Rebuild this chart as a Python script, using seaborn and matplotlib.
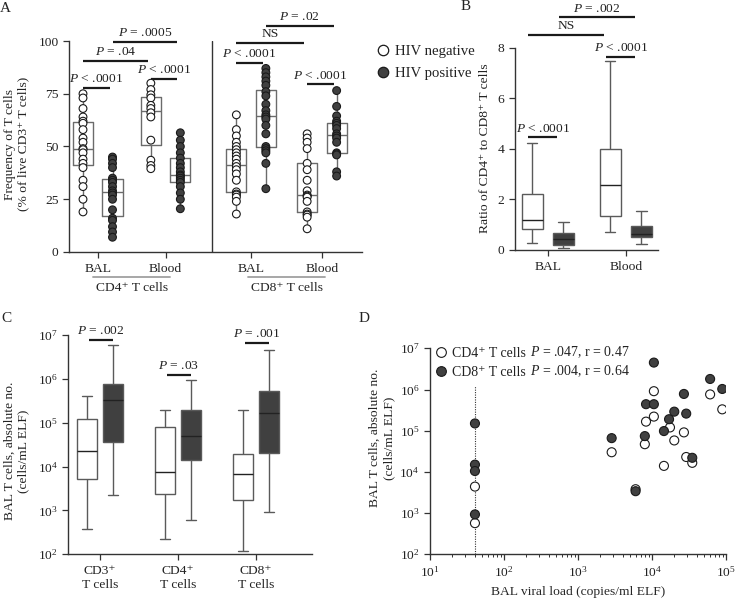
import numpy as np
import pandas as pd
import matplotlib
matplotlib.use("Agg")
import matplotlib.pyplot as plt
import matplotlib.ticker as mticker
import matplotlib.transforms as mtransforms
from matplotlib.lines import Line2D
import seaborn as sns

# ---------------- data ----------------
status_levels = ["HIV negative", "HIV positive"]

# A: frequency of T cells (% of live CD3+ T cells)
cd4_bal_neg = [75, 73, 68, 64, 62, 61, 58, 54, 52, 49, 48.5, 47, 44, 42, 40, 34, 31, 25, 19]
cd4_bal_pos = [45, 44, 42, 40, 35, 34, 33, 31, 29, 28, 27, 25, 20, 16, 15, 12, 9.5, 7]
cd4_blood_neg = [80, 77, 74.5, 73, 69.5, 68, 66, 64, 53, 43.5, 41, 39.5]
cd4_blood_pos = [56.5, 53, 50, 47, 44.5, 42, 40, 38, 36.5, 36, 35, 34, 33, 31, 28, 25, 20.5]
cd8_bal_neg = [65, 58, 55, 52, 50, 48.5, 47, 45.5, 44, 42, 40.5, 39, 37, 34, 28.5, 27.5, 27, 26, 24, 18]
cd8_bal_pos = [87, 85, 83, 81, 79, 76, 74, 70, 67, 65, 64, 63, 60, 56, 50, 49, 48, 47, 42, 30]
cd8_blood_neg = [56, 54, 52, 49, 42, 39, 34, 29, 27, 26.5, 26, 24, 19, 18, 17.5, 16.5, 11]
cd8_blood_pos = [76.5, 69, 64.5, 62, 61, 60, 58.5, 56, 55, 54, 52, 47, 46.5, 46, 38, 36]

# B: ratio of CD4+ to CD8+ T cells, (min, Q1, median, Q3, max)
ratio_bal_neg = [0.29, 0.82, 1.19, 2.22, 4.22]
ratio_bal_pos = [0.07, 0.20, 0.42, 0.66, 1.09]
ratio_blood_neg = [0.72, 1.34, 2.57, 3.98, 7.48]
ratio_blood_pos = [0.25, 0.53, 0.64, 0.95, 1.55]

# C: BAL T cells, absolute no. (cells/mL ELF), (min, Q1, median, Q3, max)
cd3_neg = [3.8e2, 5.1e3, 2.3e4, 1.2e5, 4.1e5]
cd3_pos = [2.2e3, 3.7e4, 3.3e5, 7.5e5, 5.9e6]
cd4_neg = [2.2e2, 2.4e3, 7.4e3, 8.1e4, 2.0e5]
cd4_pos = [5.9e2, 1.4e4, 5.1e4, 1.9e5, 9.4e5]
cd8_neg = [1.2e2, 1.7e3, 6.6e3, 1.9e4, 1.9e5]
cd8_pos = [9.2e2, 2.0e4, 1.7e5, 5.3e5, 4.5e6]

# D: BAL viral load vs BAL T cells
vl_cd4 = [40.5, 40.5, 2.85e3, 6.0e3, 8.0e3, 8.3e3, 1.06e4, 1.06e4, 1.45e4, 1.75e4,
          2.0e4, 2.7e4, 2.9e4, 3.5e4, 6.1e4, 8.9e4]
n_cd4 = [4.4e3, 5.7e2, 3.0e4, 3.8e3, 4.7e4, 1.66e5, 9.1e5, 2.2e5, 1.4e4, 1.2e5,
         5.8e4, 9.1e4, 2.3e4, 1.66e4, 7.6e5, 3.3e5]
vl_cd8 = [40.5, 40.5, 40.5, 40.5, 2.85e3, 6.0e3, 8.0e3, 8.3e3, 1.06e4, 1.06e4,
          1.45e4, 1.7e4, 2.0e4, 2.7e4, 2.9e4, 3.5e4, 6.1e4, 8.9e4]
n_cd8 = [1.5e5, 1.5e4, 1.05e4, 9.3e2, 6.6e4, 3.4e3, 7.4e4, 4.4e5, 4.5e6, 4.4e5,
         9.8e4, 1.9e5, 2.9e5, 7.8e5, 2.6e5, 2.2e4, 1.8e6, 1.03e6]
vl_limit = 40.5
corr_labels = ["$P$ = .047, r = 0.47", "$P$ = .004, r = 0.64"]

# ---------------- style ----------------
sns.set_style("ticks")
plt.rcParams["font.family"] = ["Liberation Serif", "DejaVu Serif"]
plt.rcParams["mathtext.fontset"] = "custom"
plt.rcParams["mathtext.rm"] = "Liberation Serif"
plt.rcParams["mathtext.it"] = "Liberation Serif:italic"
plt.rcParams["mathtext.bf"] = "Liberation Serif:bold"
plt.rcParams["font.size"] = 9.7
plt.rcParams["text.color"] = "#222222"
plt.rcParams["axes.edgecolor"] = "#333333"
plt.rcParams["axes.linewidth"] = 1.0
for a in ("xtick", "ytick"):
    plt.rcParams[a + ".color"] = "#333333"
    plt.rcParams[a + ".labelcolor"] = "#222222"
    plt.rcParams[a + ".major.size"] = 4
    plt.rcParams[a + ".major.width"] = 0.9
    plt.rcParams[a + ".labelsize"] = 9.7

dark = "#404040"
edge = "#1a1a1a"
box_line = "#6b6b6b"

W, H = 738, 598
fig = plt.figure(figsize=(W / 100, H / 100), dpi=100)


def place(l, t, r, b):
    return [l / W, 1 - b / H, (r - l) / W, (b - t) / H]


axA = fig.add_axes(place(69, 41, 362, 252))
axB = fig.add_axes(place(515, 47.7, 657.7, 250))
axC = fig.add_axes(place(68.3, 335, 312, 554.3))
axD = fig.add_axes(place(430, 348.3, 726, 554.3))


def bracket(ax, x1, x2, y, text):
    ax.plot([x1, x2], [y, y], color=edge, lw=1.6, clip_on=False, solid_capstyle="butt")
    ax.annotate(text, xy=((x1 + x2) / 2, y), xytext=(0, 2), textcoords="offset points",
                ha="center", va="bottom", annotation_clip=False)


# ---------------- A ----------------
pos_a = {"CD4 BAL": 0.0, "CD4 Blood": 2.3, "CD8 BAL": 5.2, "CD8 Blood": 7.6}
freq = {
    ("CD4 BAL", "HIV negative"): cd4_bal_neg, ("CD4 BAL", "HIV positive"): cd4_bal_pos,
    ("CD4 Blood", "HIV negative"): cd4_blood_neg, ("CD4 Blood", "HIV positive"): cd4_blood_pos,
    ("CD8 BAL", "HIV negative"): cd8_bal_neg, ("CD8 BAL", "HIV positive"): cd8_bal_pos,
    ("CD8 Blood", "HIV negative"): cd8_blood_neg, ("CD8 Blood", "HIV positive"): cd8_blood_pos,
}
rows = []
for (grp, st), vals in freq.items():
    x = pos_a[grp] + status_levels.index(st)
    rows += [{"x": x, "group": grp, "status": st, "freq": v} for v in vals]
dfa = pd.DataFrame(rows)

sns.boxplot(data=dfa, x="x", y="freq", hue="status", hue_order=status_levels,
            native_scale=True, dodge=False, orient="x", width=0.68, fill=False,
            palette={s: box_line for s in status_levels}, whis=(0, 100),
            showcaps=False, linewidth=1, legend=False, ax=axA)
sns.stripplot(data=dfa, x="x", y="freq", hue="status", hue_order=status_levels,
              native_scale=True, dodge=False, jitter=False, orient="x",
              palette={"HIV negative": "white", "HIV positive": dark},
              edgecolor=edge, linewidth=0.8, size=5.6, legend=False, ax=axA, zorder=3)

axA.set_xlim(-0.475, 9.46)
axA.set_ylim(0, 100)
axA.set_yticks([0, 25, 50, 75, 100])
centers_a = [pos_a[g] + 0.5 for g in pos_a]
axA.set_xticks(centers_a)
axA.set_xticklabels(["BAL", "Blood", "BAL", "Blood"])
axA.tick_params(axis="x", pad=4)
axA.set_xlabel("")
axA.set_ylabel("")
axA.axvline(4.37, color="#333333", lw=1)
sns.despine(ax=axA)

trans_a = mtransforms.blended_transform_factory(axA.transData, axA.transAxes)
for lbl, (g1, g2) in {"CD4⁺ T cells": ("CD4 BAL", "CD4 Blood"),
                      "CD8⁺ T cells": ("CD8 BAL", "CD8 Blood")}.items():
    c = (pos_a[g1] + pos_a[g2] + 1) / 2
    axA.plot([c - 1.3, c + 1.3], [-0.118, -0.118], transform=trans_a, clip_on=False,
             color="#a0a0a0", lw=1.3)
    axA.text(c, -0.172, lbl, transform=trans_a, ha="center", va="center")


def xa(grp, st):
    return pos_a[grp] + status_levels.index(st)


neg, posv = status_levels
sig_a = [
    (("CD4 BAL", neg), ("CD4 BAL", posv), 77.6, "$P$ < .0001"),
    (("CD4 Blood", neg), ("CD4 Blood", posv), 82.0, "$P$ < .0001"),
    (("CD4 BAL", neg), ("CD4 Blood", neg), 90.7, "$P$ = .04"),
    (("CD4 BAL", posv), ("CD4 Blood", posv), 99.7, "$P$ = .0005"),
    (("CD8 BAL", neg), ("CD8 BAL", posv), 89.7, "$P$ < .0001"),
    (("CD8 Blood", neg), ("CD8 Blood", posv), 79.4, "$P$ < .0001"),
    (("CD8 BAL", neg), ("CD8 Blood", neg), 99.2, "NS"),
    (("CD8 BAL", posv), ("CD8 Blood", posv), 107.1, "$P$ = .02"),
]
for a, b, y, t in sig_a:
    bracket(axA, xa(*a), xa(*b) - 0.1, y, t)

# ---------------- B ----------------
tissues = ["BAL", "Blood"]
ratio = {("BAL", neg): ratio_bal_neg, ("BAL", posv): ratio_bal_pos,
         ("Blood", neg): ratio_blood_neg, ("Blood", posv): ratio_blood_pos}
dfb = pd.DataFrame([{"tissue": t, "status": s, "ratio": v}
                    for (t, s), vals in ratio.items() for v in vals])
sns.boxplot(data=dfb, x="tissue", y="ratio", hue="status", order=tissues,
            hue_order=status_levels, width=0.8, gap=0.33, whis=(0, 100),
            palette={neg: "white", posv: dark}, linecolor="#5a5a5a", linewidth=1,
            medianprops={"color": "#222222"}, legend=False, ax=axB)
axB.set_xlim(-0.42, 1.41)
axB.set_ylim(0, 8)
axB.set_yticks([0, 2, 4, 6, 8])
axB.set_xlabel("")
axB.set_ylabel("")
axB.tick_params(axis="x", pad=4)
sns.despine(ax=axB)


def xb(t, s):
    return tissues.index(t) + (-0.2 if s == neg else 0.2)


sig_b = [
    (("BAL", neg), ("BAL", posv), 4.45, "$P$ < .0001"),
    (("Blood", neg), ("Blood", posv), 7.64, "$P$ < .0001"),
    (("BAL", neg), ("Blood", neg), 8.5, "NS"),
    (("BAL", posv), ("Blood", posv), 9.2, "$P$ = .002"),
]
for a, b, y, t in sig_b:
    bracket(axB, xb(*a) - 0.05, xb(*b) - 0.08, y, t)

# ---------------- C ----------------
cells = ["CD3", "CD4", "CD8"]
counts = {("CD3", neg): cd3_neg, ("CD3", posv): cd3_pos,
          ("CD4", neg): cd4_neg, ("CD4", posv): cd4_pos,
          ("CD8", neg): cd8_neg, ("CD8", posv): cd8_pos}
dfc = pd.DataFrame([{"cell": c, "status": s, "count": v}
                    for (c, s), vals in counts.items() for v in vals])
sns.boxplot(data=dfc, x="cell", y="count", hue="status", order=cells,
            hue_order=status_levels, width=0.667, gap=0.23, whis=(0, 100),
            palette={neg: "white", posv: dark}, linecolor="#5a5a5a", linewidth=1,
            medianprops={"color": "#222222"}, log_scale=(False, True),
            legend=False, ax=axC)
axC.set_xlim(-0.41, 2.72)
axC.set_ylim(1e2, 1e7)
axC.yaxis.set_major_locator(mticker.LogLocator(base=10, numticks=10))
axC.yaxis.set_minor_locator(mticker.NullLocator())
axC.set_xticks(range(3))
axC.set_xticklabels([c + "⁺\nT cells" for c in cells])
axC.set_xlabel("")
axC.set_ylabel("")
axC.tick_params(axis="x", pad=4)
sns.despine(ax=axC)


def xc(c, s):
    return cells.index(c) + (-1 / 6 if s == neg else 1 / 6)


sig_c = [
    (("CD3", neg), ("CD3", posv), 7.7e6, "$P$ = .002"),
    (("CD4", neg), ("CD4", posv), 1.23e6, "$P$ = .03"),
    (("CD8", neg), ("CD8", posv), 6.5e6, "$P$ = .001"),
]
for a, b, y, t in sig_c:
    bracket(axC, xc(*a) + 0.02, xc(*b), y, t)

# ---------------- D ----------------
dfd = pd.concat([
    pd.DataFrame({"vl": vl_cd4, "n": n_cd4, "cell": "CD4"}),
    pd.DataFrame({"vl": vl_cd8, "n": n_cd8, "cell": "CD8"}),
], ignore_index=True)
axD.plot([vl_limit, vl_limit], [1e2, 1.2e6], ls=(0, (1, 1.2)), color="#333333", lw=0.8, zorder=1)
sns.scatterplot(data=dfd, x="vl", y="n", hue="cell",
                palette={"CD4": "white", "CD8": dark}, edgecolor=edge, linewidth=0.8,
                s=42, legend=False, ax=axD, zorder=3)
axD.set_xscale("log")
axD.set_yscale("log")
axD.set_xlim(10, 1e5)
axD.set_ylim(1e2, 1e7)
axD.xaxis.set_major_locator(mticker.LogLocator(base=10, numticks=10))
axD.xaxis.set_minor_locator(mticker.LogLocator(base=10, subs=np.arange(2, 10), numticks=10))
axD.yaxis.set_major_locator(mticker.LogLocator(base=10, numticks=10))
axD.yaxis.set_minor_locator(mticker.NullLocator())
axD.tick_params(axis="x", which="minor", length=2.2, width=0.7)
axD.set_xlabel("BAL viral load (copies/ml ELF)", labelpad=5)
axD.set_ylabel("")
sns.despine(ax=axD)

hd = [Line2D([], [], marker="o", ls="", mfc="white", mec=edge, mew=0.8, ms=7),
      Line2D([], [], marker="o", ls="", mfc=dark, mec=edge, mew=0.8, ms=7)]
leg = axD.legend(hd, ["CD4⁺ T cells", "CD8⁺ T cells"],
                 loc="upper left", bbox_to_anchor=(0.0, 1.035), frameon=False,
                 handlelength=0.8, handletextpad=0.4, labelspacing=0.45,
                 borderpad=0.2, borderaxespad=0.2, fontsize=10)

# legend for groups (next to B)
hb = [Line2D([], [], marker="o", ls="", mfc="white", mec=edge, mew=0.9, ms=7.5),
      Line2D([], [], marker="o", ls="", mfc=dark, mec=edge, mew=0.9, ms=7.5)]
fig.legend(hb, status_levels, loc="upper left", bbox_to_anchor=(377 / W, 1 - 45 / H),
           frameon=False, handlelength=0.8, handletextpad=0.4, labelspacing=0.55,
           borderpad=0, borderaxespad=0, fontsize=10.6)

# ---------------- labels ----------------
fig.text(16.5 / W, 1 - 144 / H, "Frequency of T cells\n(% of live CD3⁺ T cells)",
         rotation=90, ha="center", va="center", multialignment="center")
fig.text(485 / W, 1 - 148 / H, "Ratio of CD4⁺ to CD8⁺ T cells",
         rotation=90, ha="center", va="center")
fig.text(16.5 / W, 1 - 451 / H, "BAL T cells, absolute no.\n(cells/mL ELF)",
         rotation=90, ha="center", va="center", multialignment="center")
fig.text(382 / W, 1 - 438 / H, "BAL T cells, absolute no.\n(cells/mL ELF)",
         rotation=90, ha="center", va="center", multialignment="center")

for letter, x, y in [("A", 5, 9), ("B", 466, 7), ("C", 6, 319), ("D", 364, 319)]:
    fig.text(x / W, 1 - y / H, letter, ha="center", va="center", fontsize=11)

# the correlation statistics follow each legend entry (italic P);
# draw once so the legend text positions are known
fig.canvas.draw()
for txt, extra in zip(leg.get_texts(), corr_labels):
    bb = txt.get_window_extent()
    fig.text((bb.x1 + 4) / W, bb.y0 / H, extra, ha="left", va="bottom", fontsize=10)

fig.savefig("out.png", dpi=100)
